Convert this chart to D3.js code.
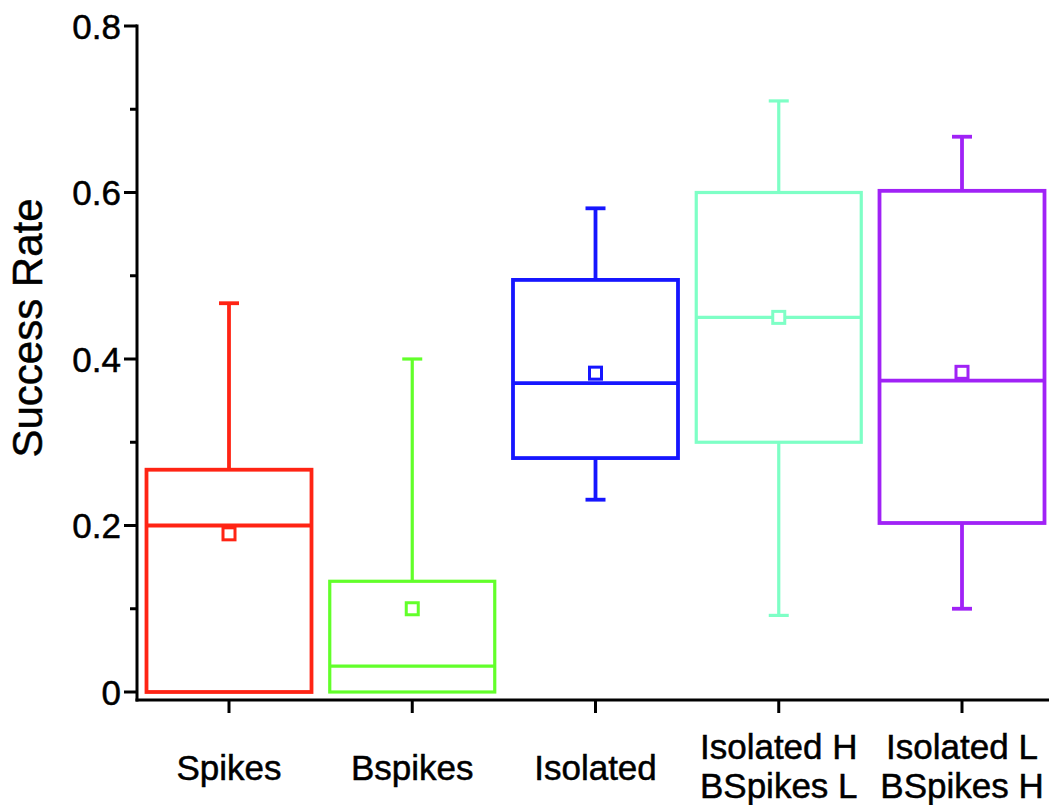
<!DOCTYPE html>
<html>
<head>
<meta charset="utf-8">
<script src="https://cdn.jsdelivr.net/npm/d3@7/dist/d3.min.js"></script>
<style>
  html, body { margin: 0; padding: 0; background: #fff; }
  svg { display: block; }
  text { font-family: "Liberation Sans", Arial, Helvetica, sans-serif; fill: #000; stroke: #000; stroke-width: 0.5; }
</style>
</head>
<body>
<svg id="chart" width="1049" height="805"></svg>
<script>
// ---- Data ----
const categories = ["Spikes", "Bspikes", "Isolated", "Isolated H\nBSpikes L", "Isolated L\nBSpikes H"];
const whiskerLow  = [0.0,   0.0,   0.231, 0.092, 0.100];
const q1Values    = [0.0,   0.0,   0.281, 0.300, 0.203];
const medianValues= [0.200, 0.031, 0.371, 0.450, 0.374];
const q3Values    = [0.267, 0.133, 0.495, 0.600, 0.602];
const whiskerHigh = [0.467, 0.400, 0.581, 0.710, 0.667];
const meanValues  = [0.190, 0.100, 0.383, 0.450, 0.384];
const colors      = ["#ff2414", "#62ff2a", "#1616ff", "#7effc6", "#a022f6"];
const majorTicks  = [0, 0.2, 0.4, 0.6, 0.8];
const minorTicks  = [0.1, 0.3, 0.5, 0.7];
const yLabel = "Success Rate";

// ---- Layout ----
const svg = d3.select("#chart");
const y = d3.scaleLinear().domain([0, 0.8]).range([692, 26]);
const x = d3.scalePoint().domain(categories).range([229, 962]);
const axisX = 137, axisBottom = 700;
const boxW = 165, capW = 20;

const data = categories.map((c, i) => ({
  c, lo: whiskerLow[i], q1: q1Values[i], med: medianValues[i],
  q3: q3Values[i], hi: whiskerHigh[i], mean: meanValues[i], color: colors[i],
  sw: (i === 1 || i === 3) ? 3.2 : 3.8
}));

const g = svg.append("g");

// Boxes
data.forEach(d => {
  const cx = x(d.c);
  const bg = g.append("g").attr("stroke", d.color).attr("fill", "none").attr("stroke-width", d.sw);
  if (d.hi > d.q3) {
    bg.append("line").attr("x1", cx).attr("x2", cx).attr("y1", y(d.q3)).attr("y2", y(d.hi));
    bg.append("line").attr("x1", cx - capW/2).attr("x2", cx + capW/2).attr("y1", y(d.hi)).attr("y2", y(d.hi));
  }
  if (d.lo < d.q1) {
    bg.append("line").attr("x1", cx).attr("x2", cx).attr("y1", y(d.q1)).attr("y2", y(d.lo));
    bg.append("line").attr("x1", cx - capW/2).attr("x2", cx + capW/2).attr("y1", y(d.lo)).attr("y2", y(d.lo));
  }
  bg.append("rect").attr("x", cx - boxW/2).attr("width", boxW)
    .attr("y", y(d.q3)).attr("height", y(d.q1) - y(d.q3)).attr("fill", "none");
  bg.append("line").attr("x1", cx - boxW/2).attr("x2", cx + boxW/2).attr("y1", y(d.med)).attr("y2", y(d.med));
  bg.append("rect").attr("x", cx - 6).attr("y", y(d.mean) - 6).attr("width", 12).attr("height", 12)
    .attr("fill", "#fff").attr("stroke-width", 3);
});

// Y axis
const ya = svg.append("g").attr("stroke", "#000").attr("stroke-width", 3);
ya.append("line").attr("x1", axisX).attr("x2", axisX).attr("y1", y(0.8) - 1.5).attr("y2", axisBottom + 1.5);
majorTicks.forEach(t => {
  ya.append("line").attr("x1", axisX - 13).attr("x2", axisX).attr("y1", y(t)).attr("y2", y(t));
});
minorTicks.forEach(t => {
  ya.append("line").attr("x1", axisX - 7).attr("x2", axisX).attr("y1", y(t)).attr("y2", y(t));
});
svg.append("g").selectAll("text").data(majorTicks).join("text")
  .attr("x", axisX - 16).attr("y", d => y(d)).attr("dy", "0.36em")
  .attr("text-anchor", "end").attr("font-size", 35)
  .text(d => d === 0 ? "0" : d3.format(".1f")(d));

// X axis
const xa = svg.append("g").attr("stroke", "#000").attr("stroke-width", 3);
xa.append("line").attr("x1", axisX - 1.5).attr("x2", 1049).attr("y1", axisBottom).attr("y2", axisBottom);
categories.forEach(c => {
  xa.append("line").attr("x1", x(c)).attr("x2", x(c)).attr("y1", axisBottom).attr("y2", axisBottom + 13);
});
const lab = svg.append("g").attr("font-size", 35).attr("text-anchor", "middle");
categories.forEach(c => {
  const lines = c.split("\n");
  const t = lab.append("text").attr("x", x(c));
  lines.forEach((ln, j) => {
    const base = lines.length === 1 ? 780 : 759 + j * 39;
    t.append("tspan").attr("x", x(c)).attr("y", base).text(ln);
  });
});

// Y label
svg.append("text").attr("transform", "translate(42,328) rotate(-90)")
  .attr("text-anchor", "middle").attr("font-size", 42).text(yLabel);
</script>
</body>
</html>
